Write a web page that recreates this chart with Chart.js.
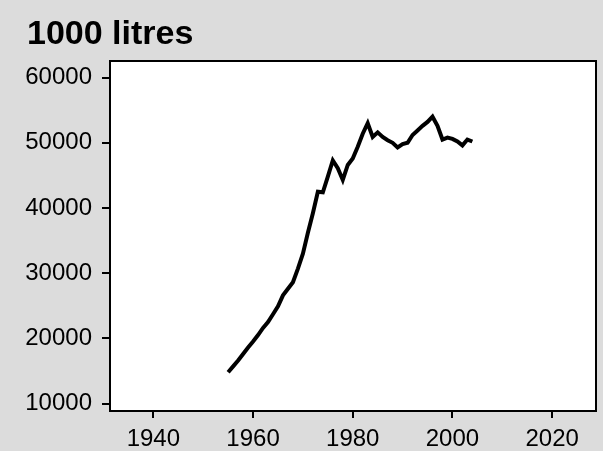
<!DOCTYPE html>
<html>
<head>
<meta charset="utf-8">
<script src="https://cdn.jsdelivr.net/npm/chart.js@4/dist/chart.umd.min.js"></script>
<style>
  html, body { margin: 0; padding: 0; background: #dcdcdc; }
  #wrap { width: 603px; height: 451px; }
</style>
</head>
<body>
<div id="wrap"><canvas id="myChart" width="603" height="451"></canvas></div>
<script>
  const titleText = '1000 litres';
  const years = [1955, 1956, 1957, 1958, 1959, 1960, 1961, 1962, 1963, 1964,
    1965, 1966, 1967, 1968, 1969, 1970, 1971, 1972, 1973, 1974,
    1975, 1976, 1977, 1978, 1979, 1980, 1981, 1982, 1983, 1984,
    1985, 1986, 1987, 1988, 1989, 1990, 1991, 1992, 1993, 1994,
    1995, 1996, 1997, 1998, 1999, 2000, 2001, 2002, 2003, 2004];
  const volume = [14800, 15700, 16600, 17600, 18600, 19500, 20500, 21600, 22500, 23700,
    24900, 26600, 27600, 28600, 30700, 33000, 36200, 39200, 42500, 42400,
    44800, 47300, 46100, 44300, 46600, 47600, 49400, 51400, 53000, 50900,
    51600, 50900, 50400, 50000, 49300, 49800, 50000, 51200, 51900, 52600,
    53200, 54000, 52600, 50500, 50800, 50600, 50200, 49600, 50500, 50200];
  const xTicks = [1940, 1960, 1980, 2000, 2020];
  const yTicks = [10000, 20000, 30000, 40000, 50000, 60000];

  const tickFont = { family: '"Liberation Sans", Arial, sans-serif', size: 24 };

  const ctx = document.getElementById('myChart');

  // grey page, white plot area, black frame, title
  const frame = {
    id: 'frame',
    beforeDraw(chart) {
      const c = chart.ctx, a = chart.chartArea;
      c.save();
      c.fillStyle = '#dcdcdc';
      c.fillRect(0, 0, chart.width, chart.height);
      c.fillStyle = '#ffffff';
      c.fillRect(a.left, a.top, a.right - a.left, a.bottom - a.top);
      c.fillStyle = '#000';
      c.font = 'bold 34px "Liberation Sans", Arial, sans-serif';
      c.textBaseline = 'alphabetic';
      c.fillText(titleText, 27, 44);
      c.restore();
    },
    afterDraw(chart) {
      const c = chart.ctx, a = chart.chartArea;
      c.save();
      c.strokeStyle = '#000';
      c.lineWidth = 2;
      c.strokeRect(a.left, a.top, a.right - a.left, a.bottom - a.top);
      c.restore();
    }
  };

  new Chart(ctx, {
    type: 'line',
    data: {
      datasets: [{
        label: titleText,
        data: years.map((y, i) => ({ x: y, y: volume[i] })),
        borderColor: '#000',
        borderWidth: 4,
        pointRadius: 0,
        tension: 0,
        fill: false
      }]
    },
    options: {
      responsive: false,
      animation: false,
      layout: { padding: { left: 0, right: 7, top: 61, bottom: 0 } },
      plugins: {
        legend: { display: false },
        tooltip: { enabled: false }
      },
      scales: {
        x: {
          type: 'linear',
          min: 1931.3,
          max: 2028.8,
          afterFit(scale) { scale.height = 40; },
          afterBuildTicks(scale) { scale.ticks = xTicks.map(v => ({ value: v })); },
          grid: { drawOnChartArea: false, color: '#000', lineWidth: 2, tickLength: 7 },
          border: { display: false },
          ticks: {
            color: '#000',
            padding: 7,
            maxRotation: 0,
            font: tickFont,
            callback: v => String(v)
          }
        },
        y: {
          min: 8850,
          max: 62550,
          afterFit(scale) { scale.width = 110; },
          afterBuildTicks(scale) { scale.ticks = yTicks.map(v => ({ value: v })); },
          grid: { drawOnChartArea: false, color: '#000', lineWidth: 2, tickLength: 8 },
          border: { display: false },
          ticks: {
            color: '#000',
            padding: 10,
            font: tickFont,
            callback: v => String(v)
          }
        }
      }
    },
    plugins: [frame]
  });
</script>
</body>
</html>
